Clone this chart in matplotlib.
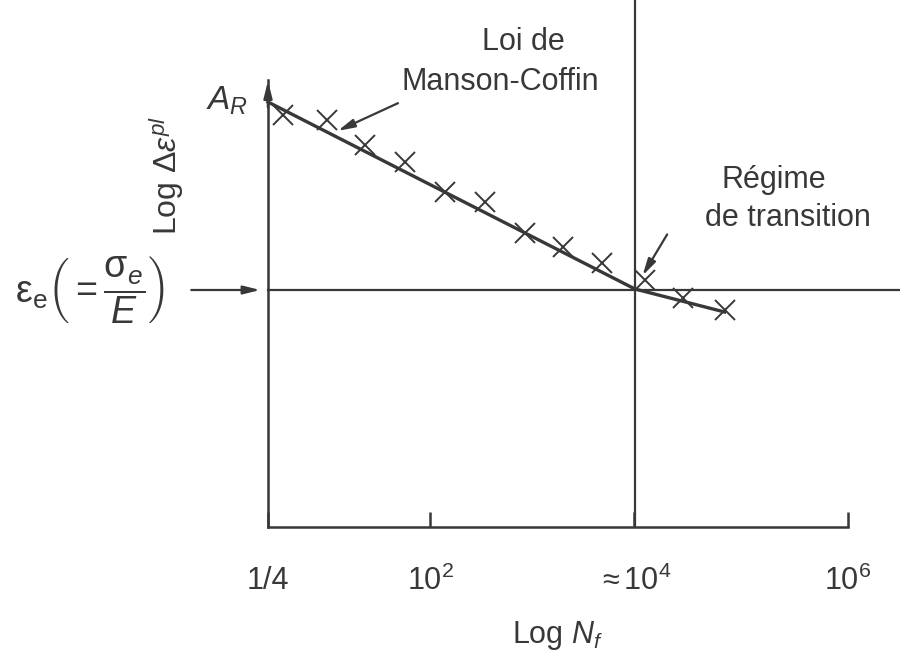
import matplotlib
matplotlib.use("Agg")
from matplotlib import pyplot as plt
import numpy as np

# schematic positions along Log N_f and Log delta-eps^pl (arbitrary units)
tick_pos = [0.0, 1.59, 3.59, 5.69]
tick_labels = ["1/4", r"$10^2$", r"$\approx 10^4$", r"$10^6$"]

cross_x = [0.15, 0.58, 0.95, 1.34, 1.74, 2.13, 2.52, 2.89, 3.28, 3.70, 4.07, 4.48]
cross_y = [4.12, 4.07, 3.82, 3.65, 3.35, 3.25, 2.94, 2.80, 2.64, 2.47, 2.29, 2.17]

fit_x = [0.0, 3.60, 4.48]
fit_y = [4.25, 2.38, 2.15]

knee_x = 3.60
eps_e = 2.37
y_top = 4.47

ink = "#383838"
plt.rcParams["font.family"] = ["Liberation Sans", "DejaVu Sans"]
plt.rcParams["mathtext.fontset"] = "custom"
plt.rcParams["mathtext.rm"] = "Liberation Sans"
plt.rcParams["mathtext.it"] = "Liberation Sans:italic"
plt.rcParams["text.color"] = ink

fig = plt.figure(figsize=(9, 6.6), dpi=100)
ax = fig.add_axes([268 / 900, 133 / 660, 580 / 900, 447 / 660])
ax.set_xlim(0, tick_pos[-1])
ax.set_ylim(0, y_top)

for s in ["top", "right"]:
    ax.spines[s].set_visible(False)
for s in ["left", "bottom"]:
    ax.spines[s].set_color(ink)
    ax.spines[s].set_linewidth(1.8)

ax.set_xticks(tick_pos)
ax.set_xticklabels(tick_labels, fontsize=22)
ax.tick_params(axis="x", direction="in", length=11, width=1.8, color=ink, pad=28, labelcolor=ink)
ax.set_yticks([])
ax.set_xlabel(r"Log $N_f$", fontsize=22, labelpad=16, color=ink)

# arrow head on the y axis
ax.annotate("", xy=(0, y_top + 0.02), xytext=(0, y_top - 0.3), annotation_clip=False,
            arrowprops=dict(arrowstyle="-|>,head_length=1.0,head_width=0.25", color=ink, lw=1.8))

# reference lines
ax.plot([0, 6.2], [eps_e, eps_e], color=ink, lw=1.6, clip_on=False)
ax.plot([knee_x, knee_x], [0, 5.3], color=ink, lw=1.6, clip_on=False)

ax.plot(fit_x, fit_y, color=ink, lw=2.4, clip_on=False)
ax.plot(cross_x, cross_y, "x", color=ink, ms=14, mew=1.4, clip_on=False)

ax.text(-0.4, 4.26, r"$A_R$", fontsize=24, ha="center", va="center")
ax.text(-1.0, 3.52, r"Log $\Delta\varepsilon^{pl}$", fontsize=23, rotation=90,
        ha="center", va="center")
ax.text(2.51, 4.85, "Loi de", fontsize=22, ha="center", va="center")
ax.text(2.28, 4.45, "Manson-Coffin", fontsize=22, ha="center", va="center")
ax.text(4.96, 3.47, "Régime", fontsize=22, ha="center", va="center")
ax.text(5.1, 3.09, "de transition", fontsize=22, ha="center", va="center")
ax.text(-1.75, eps_e, r"$\mathrm{\varepsilon_e}\left(=\dfrac{\mathrm{\sigma}_e}{E}\right)$",
        fontsize=27, ha="center", va="center")

arrow = dict(arrowstyle="-|>,head_length=1.0,head_width=0.25", color=ink, lw=1.6)
ax.annotate("", xy=(-0.05, eps_e), xytext=(-0.78, eps_e), arrowprops=arrow,
            annotation_clip=False)
ax.annotate("", xy=(0.66, 3.95), xytext=(1.30, 4.25), arrowprops=arrow,
            annotation_clip=False)
ax.annotate("", xy=(3.66, 2.49), xytext=(3.93, 2.95), arrowprops=arrow,
            annotation_clip=False)

fig.savefig("out.png", dpi=100)
